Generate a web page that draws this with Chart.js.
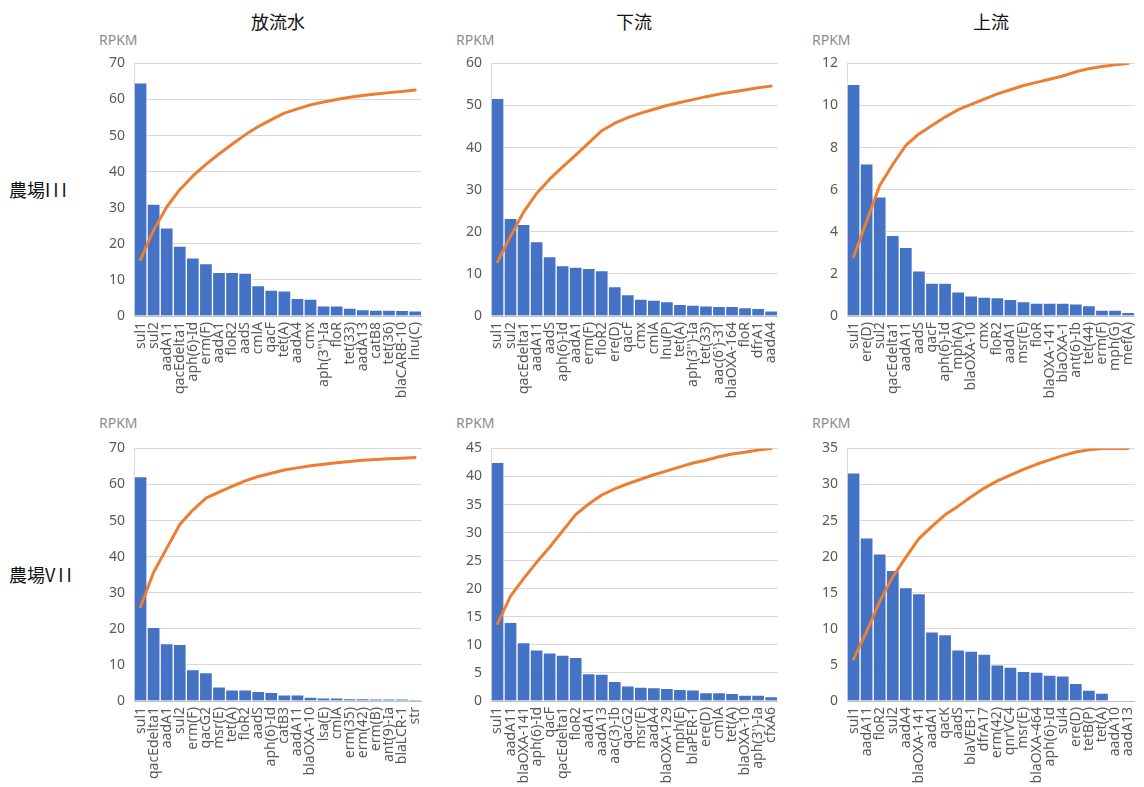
<!DOCTYPE html>
<html>
<head>
<meta charset="utf-8">
<script src="https://cdn.jsdelivr.net/npm/chart.js@4"></script>
<style>
  html, body { margin: 0; padding: 0; background: #fff; }
  body { width: 1144px; height: 787px; position: relative; overflow: hidden;
         font-family: "Noto Sans CJK JP", "Noto Sans", sans-serif; }
  .col-title { position: absolute; top: 8px; width: 200px; text-align: center;
               font-size: 18px; color: #111; }
  .row-title { position: absolute; left: 9px; font-size: 18px; color: #111; }
  .row-title span { letter-spacing: 3px; }
  .unit { position: absolute; font-family: "Noto Sans", sans-serif; font-size: 14px; color: #8c8c8c; }
  .panel { position: absolute; }
</style>
</head>
<body>
<div class="col-title" style="left:178px">放流水</div>
<div class="col-title" style="left:534px">下流</div>
<div class="col-title" style="left:891px">上流</div>
<div class="row-title" style="top:176px">農場<span>III</span></div>
<div class="row-title" style="top:561px">農場<span>VII</span></div>

<div class="unit" style="left:99px;top:30px">RPKM</div>
<div class="unit" style="left:456px;top:30px">RPKM</div>
<div class="unit" style="left:812px;top:30px">RPKM</div>
<div class="unit" style="left:99px;top:413px">RPKM</div>
<div class="unit" style="left:456px;top:413px">RPKM</div>
<div class="unit" style="left:812px;top:413px">RPKM</div>

<canvas id="c1" class="panel"></canvas>
<canvas id="c2" class="panel"></canvas>
<canvas id="c3" class="panel"></canvas>
<canvas id="c4" class="panel"></canvas>
<canvas id="c5" class="panel"></canvas>
<canvas id="c6" class="panel"></canvas>

<script>
// ---- 農場III / 放流水 ----
const effluentIII_genes = ["sul1","sul2","aadA11","qacEdelta1","aph(6)-Id","erm(F)","aadA1","floR2","aadS","cmlA","qacF","tet(A)","aadA4","cmx","aph(3'')-Ia","floR","tet(33)","aadA13","catB8","tet(36)","blaCARB-10","lnu(C)"];
const effluentIII_rpkm  = [64.6,31.0,24.4,19.4,16.1,14.5,12.1,12.1,11.9,8.4,7.2,7.0,4.9,4.7,2.8,2.8,2.2,1.8,1.65,1.65,1.6,1.4];
const effluentIII_cum   = [15.6,23.8,30.2,35.0,38.8,42.0,44.9,47.6,50.2,52.5,54.4,56.2,57.4,58.5,59.3,60.0,60.6,61.1,61.5,61.9,62.2,62.6];

// ---- 農場III / 下流 ----
const downstreamIII_genes = ["sul1","sul2","qacEdelta1","aadA11","aadS","aph(6)-Id","aadA1","erm(F)","floR2","ere(D)","qacF","cmx","cmlA","lnu(P)","tet(A)","aph(3'')-Ia","tet(33)","aac(6')-31","blaOXA-164","floR","dfrA1","aadA4"];
const downstreamIII_rpkm  = [51.7,23.2,21.8,17.7,14.1,12.0,11.6,11.3,10.8,7.0,5.1,4.0,3.8,3.4,2.8,2.6,2.4,2.3,2.3,2.0,1.8,1.2];
const downstreamIII_cum   = [12.9,18.9,24.7,29.1,32.5,35.4,38.2,41.1,44.0,45.8,47.1,48.2,49.1,50.0,50.7,51.4,52.1,52.7,53.2,53.7,54.2,54.6];

// ---- 農場III / 上流 ----
const upstreamIII_genes = ["sul1","ere(D)","sul2","qacEdelta1","aadA11","aadS","qacF","aph(6)-Id","mph(A)","blaOXA-10","cmx","floR2","aadA1","msr(E)","floR","blaOXA-141","blaOXA-1","ant(6)-Ib","tet(44)","erm(F)","mph(G)","mef(A)"];
const upstreamIII_rpkm  = [11.0,7.23,5.66,3.83,3.26,2.15,1.56,1.56,1.15,0.96,0.9,0.87,0.79,0.68,0.61,0.61,0.61,0.58,0.5,0.28,0.28,0.17];
const upstreamIII_cum   = [2.8,4.5,6.2,7.2,8.1,8.65,9.05,9.45,9.8,10.05,10.3,10.55,10.75,10.95,11.1,11.25,11.4,11.6,11.75,11.85,11.93,12.0];

// ---- 農場VII / 放流水 ----
const effluentVII_genes = ["sul1","qacEdelta1","aadA1","sul2","erm(F)","qacG2","msr(E)","tet(A)","floR2","aadS","aph(6)-Id","catB3","aadA11","blaOXA-10","lsa(E)","cmlA","erm(35)","erm(42)","erm(B)","ant(9)-Ia","blaLCR-1","str"];
const effluentVII_rpkm  = [62.2,20.4,15.9,15.7,8.7,7.9,3.9,3.1,3.1,2.7,2.4,1.7,1.7,1.1,0.9,0.9,0.65,0.65,0.45,0.45,0.45,0.2];
const effluentVII_cum   = [26.1,35.7,42.3,48.9,52.9,56.2,57.9,59.5,61.0,62.2,63.1,64.0,64.6,65.2,65.6,66.0,66.4,66.7,66.9,67.1,67.3,67.5];

// ---- 農場VII / 下流 ----
const downstreamVII_genes = ["sul1","aadA11","blaOXA-141","aph(6)-Id","qacF","qacEdelta1","floR2","aadA1","aadA13","aac(3)-Ib","qacG2","msr(E)","aadA4","blaOXA-129","mph(E)","blaPER-1","ere(D)","cmlA","tet(A)","blaOXA-10","aph(3')-Ia","cfxA6"];
const downstreamVII_rpkm  = [42.5,14.0,10.4,9.1,8.6,8.2,7.8,4.9,4.8,3.5,2.7,2.5,2.4,2.25,2.1,2.0,1.5,1.5,1.35,1.05,1.05,0.8];
const downstreamVII_cum   = [13.8,18.7,21.8,24.7,27.4,30.3,33.2,35.1,36.7,37.8,38.7,39.5,40.3,41.0,41.7,42.4,42.9,43.5,44.0,44.3,44.7,45.0];

// ---- 農場VII / 上流 ----
const upstreamVII_genes = ["sul1","aadA11","floR2","sul2","aadA4","blaOXA-141","aadA1","qacK","aadS","blaVEB-1","dfrA17","erm(42)","qnrVC4","msr(E)","blaOXA-464","aph(6)-Id","sul4","ere(D)","tetB(P)","tet(A)","aadA10","aadA13"];
const upstreamVII_rpkm  = [31.6,22.6,20.4,18.1,15.7,14.9,9.6,9.2,7.1,6.9,6.5,5.0,4.7,4.1,4.0,3.6,3.5,2.45,1.5,1.1,0,0];
const upstreamVII_cum   = [5.8,9.6,13.8,17.2,19.9,22.5,24.2,25.8,27.0,28.3,29.5,30.5,31.3,32.1,32.8,33.4,34.0,34.5,34.8,35.0,35.0,35.0];

// y-axis ranges (max, step) per panel
const yMaxIII  = [70, 60, 12];
const yStepIII = [10, 10, 2];
const yMaxVII  = [70, 45, 35];
const yStepVII = [10, 5, 5];

const BAR_BLUE = "#4472C4";
const LINE_ORANGE = "#ED7D31";
const Y_AXIS_W = 44, X_AXIS_H = 100;

function sizeCanvas(cv, w, h) {
  cv.width = w; cv.height = h;
  cv.style.width = w + "px"; cv.style.height = h + "px";
}

function panel(id, plotLeft, plotTop, plotW, plotH, genes, rpkm, cum, yMax, yStep) {
  const cv = document.getElementById(id);
  const config = () => ({
    data: {
      labels: genes,
      datasets: [
        {
          type: "line", data: cum, order: 0,
          borderColor: LINE_ORANGE, borderWidth: 3,
          pointRadius: 0, tension: 0,
          borderCapStyle: "round", borderJoinStyle: "round"
        },
        {
          type: "bar", data: rpkm, order: 1,
          backgroundColor: BAR_BLUE,
          borderColor: "rgba(255,255,255,0.75)", borderWidth: 1,
          barPercentage: 1.0, categoryPercentage: 1.0
        }
      ]
    },
    options: {
      responsive: false, maintainAspectRatio: false,
      animation: false, devicePixelRatio: 1,
      layout: { padding: { top: 4, right: 4, left: 0, bottom: 0 } },
      plugins: { legend: { display: false }, tooltip: { enabled: false } },
      scales: {
        x: {
          offset: true,
          grid: { display: false, drawTicks: false },
          border: { display: true, color: "#bfbfbf", width: 1 },
          ticks: {
            autoSkip: false, minRotation: 90, maxRotation: 90, padding: 6,
            color: "#595959", font: { family: "Noto Sans", size: 14 }
          },
          afterFit: (s) => { s.height = X_AXIS_H; }
        },
        y: {
          min: 0, max: yMax,
          grid: { color: "#d9d9d9", lineWidth: 1, drawTicks: false },
          border: { display: true, color: "#d9d9d9", width: 1 },
          ticks: {
            stepSize: yStep, padding: 9,
            color: "#595959", font: { family: "Noto Sans", size: 14 }
          },
          afterFit: (s) => { s.width = Y_AXIS_W; }
        }
      }
    }
  });

  // first pass: measure the plot area, then rebuild at the size that gives the intended plot area
  let w = plotW + Y_AXIS_W + 20, h = plotH + 20 + X_AXIS_H;
  sizeCanvas(cv, w, h);
  let chart = new Chart(cv, config());
  let a = chart.chartArea;
  w += plotW - (a.right - a.left);
  h += plotH - (a.bottom - a.top);
  chart.destroy();
  sizeCanvas(cv, w, h);
  chart = new Chart(cv, config());
  a = chart.chartArea;
  cv.style.left = (plotLeft - a.left) + "px";
  cv.style.top = (plotTop - a.top) + "px";
}

panel("c1", 134, 63, 288, 253, effluentIII_genes, effluentIII_rpkm, effluentIII_cum, yMaxIII[0], yStepIII[0]);
panel("c2", 491, 63, 287, 253, downstreamIII_genes, downstreamIII_rpkm, downstreamIII_cum, yMaxIII[1], yStepIII[1]);
panel("c3", 847, 63, 288, 253, upstreamIII_genes, upstreamIII_rpkm, upstreamIII_cum, yMaxIII[2], yStepIII[2]);
panel("c4", 134, 448, 288, 253, effluentVII_genes, effluentVII_rpkm, effluentVII_cum, yMaxVII[0], yStepVII[0]);
panel("c5", 491, 448, 287, 253, downstreamVII_genes, downstreamVII_rpkm, downstreamVII_cum, yMaxVII[1], yStepVII[1]);
panel("c6", 847, 448, 288, 253, upstreamVII_genes, upstreamVII_rpkm, upstreamVII_cum, yMaxVII[2], yStepVII[2]);
</script>
</body>
</html>
